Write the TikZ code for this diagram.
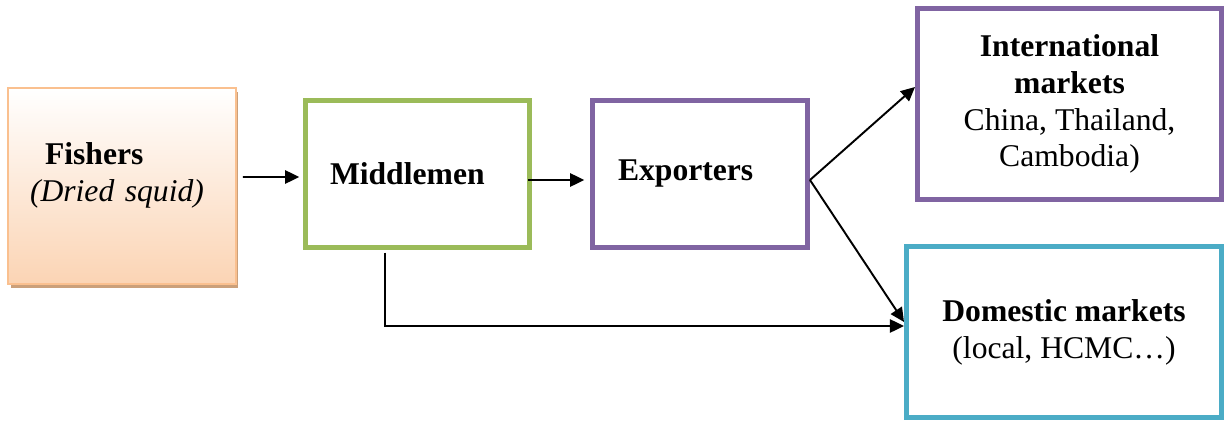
\documentclass[tikz,border=0pt]{standalone}
\usepackage{fontspec}
\setmainfont{Liberation Serif}
\usepackage{tikz}
\usetikzlibrary{arrows.meta}
\usetikzlibrary{shadows}

\definecolor{fishline}{RGB}{250,192,143}
\definecolor{fishfill}{RGB}{251,212,180}
\definecolor{fishshadow}{RGB}{203,160,122}
\definecolor{midgreen}{RGB}{155,187,89}
\definecolor{exppurple}{RGB}{128,100,162}
\definecolor{domteal}{RGB}{75,172,198}

\begin{document}
\begin{tikzpicture}
    \tikzstyle{edge}=[draw=black,line width=1.1pt,-{Triangle[length=8pt,width=7.5pt]}]
    \tikzstyle{box}=[rectangle,draw,line width=3.1pt,fill=white,inner sep=0pt,font=\fontsize{18}{21}\selectfont]

    \tikzstyle{fishbox}=[line width=1.4pt,draw=fishline,top color=white,bottom color=fishfill,
        drop shadow={shadow xshift=0.05cm,shadow yshift=-0.08cm,fill=fishshadow,opacity=1}]
    \tikzstyle{greenbox}=[draw=midgreen]
    \tikzstyle{purplebox}=[draw=exppurple]
    \tikzstyle{tealbox}=[draw=domteal]

    \useasboundingbox (0,0) rectangle (24.5,8.42);

    \node[box,fishbox,minimum width=4.55cm,minimum height=3.91cm,text width=3.68cm,
        inner xsep=0.435cm,align=left] (fishers) at (2.44,4.70)
        {\hspace*{0.3cm}\textbf{Fishers}\\\textit{(Dried squid)}\\[-5pt]\mbox{}};
    \node[box,greenbox,minimum width=4.47cm,minimum height=2.93cm,text width=3.5cm,
        inner xsep=0.485cm,align=left] (middle) at (8.35,4.94) {\textbf{Middlemen}};
    \node[box,purplebox,minimum width=4.29cm,minimum height=2.93cm,text width=3.28cm,
        inner xsep=0.505cm,align=left] (export) at (14.0,4.94) {\textbf{Exporters}};
    \node[box,purplebox,minimum width=6.07cm,minimum height=3.81cm,align=center] (intl) at (21.39,6.34)
        {\textbf{International}\\\textbf{markets}\\China, Thailand,\\Cambodia)};
    \node[box,tealbox,minimum width=6.29cm,minimum height=3.41cm,align=center] (dom) at (21.28,1.78)
        {\textbf{Domestic markets}\\(local, HCMC…)};

    \path[edge] ([xshift=0.12cm,yshift=0.18cm]fishers.east) -- ([xshift=-0.075cm,yshift=-0.06cm]middle.west);
    \path[edge] ([xshift=-0.08cm,yshift=-0.12cm]middle.east) -- ([xshift=-0.115cm,yshift=-0.12cm]export.west);

    \path[edge] ([yshift=-0.12cm]export.east) -- ([yshift=0.34cm]intl.west);
    \path[edge] ([yshift=-0.12cm]export.east) -- ([yshift=0.2cm]dom.west);

    \path[edge] ([xshift=-0.65cm,yshift=-0.055cm]middle.south) |- ([yshift=0.12cm]dom.west);
\end{tikzpicture}
\end{document}
